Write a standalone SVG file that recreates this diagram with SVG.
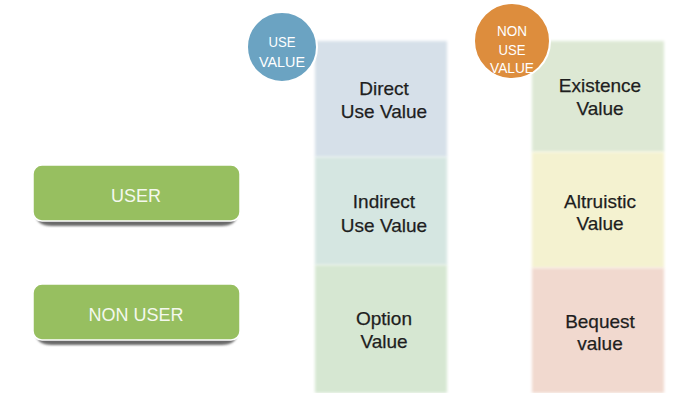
<svg xmlns="http://www.w3.org/2000/svg" width="676" height="393" viewBox="0 0 676 393">
<defs>
<filter id="blur" x="-10%" y="-50%" width="120%" height="200%"><feGaussianBlur stdDeviation="1"/></filter>
<filter id="soft" x="-10%" y="-10%" width="120%" height="120%"><feGaussianBlur stdDeviation="1.5"/></filter>
</defs>
<style>
.ct{font-family:"Liberation Sans",Arial,sans-serif;font-size:19px;fill:#1e1e1e;text-anchor:middle;stroke:#1e1e1e;stroke-width:0.25}
.bt{font-family:"Liberation Sans",Arial,sans-serif;font-size:18px;fill:#f4f8ee;text-anchor:middle}
.cc{font-family:"Liberation Sans",Arial,sans-serif;font-size:15px;fill:#ffffff;text-anchor:middle}
.btn{fill:#97bf60;stroke:#ffffff;stroke-width:1.5}
.sh{fill:#6a6a6a;filter:url(#blur)}
</style>
<rect width="676" height="393" fill="#ffffff"/>
<g id="use-column">
<rect x="315" y="41" width="132" height="116" fill="#d6e0e9" filter="url(#soft)"/>
<rect x="315" y="157" width="132" height="108" fill="#d5e6e1" filter="url(#soft)"/>
<rect x="315" y="265" width="132" height="128" fill="#d6e7d2" filter="url(#soft)"/>
</g>
<g id="direct-use-value"><text class="ct" x="384" y="95">Direct</text><text class="ct" x="384" y="118">Use Value</text></g>
<g id="indirect-use-value"><text class="ct" x="384" y="208">Indirect</text><text class="ct" x="384" y="232">Use Value</text></g>
<g id="option-value"><text class="ct" x="384" y="325">Option</text><text class="ct" x="384" y="348">Value</text></g>
<g id="nonuse-column">
<rect x="532" y="41" width="132" height="111" fill="#dde8d4" filter="url(#soft)"/>
<rect x="532" y="152" width="132" height="116" fill="#f4f2d0" filter="url(#soft)"/>
<rect x="532" y="268" width="132" height="125" fill="#f1d9cf" filter="url(#soft)"/>
</g>
<g id="existence-value"><text class="ct" x="600" y="92">Existence</text><text class="ct" x="600" y="115">Value</text></g>
<g id="altruistic-value"><text class="ct" x="600" y="208">Altruistic</text><text class="ct" x="600" y="230">Value</text></g>
<g id="bequest-value"><text class="ct" x="600" y="328">Bequest</text><text class="ct" x="600" y="350">value</text></g>
<g id="use-value-circle">
<circle cx="282" cy="47" r="35" fill="#6ba3c2" stroke="#ffffff" stroke-width="2"/>
<text class="cc" x="282" y="47" textLength="27" lengthAdjust="spacingAndGlyphs">USE</text><text class="cc" x="282" y="67" textLength="46" lengthAdjust="spacingAndGlyphs">VALUE</text>
</g>
<g id="non-use-value-circle">
<circle cx="512" cy="41" r="38" fill="#dd8d3d" stroke="#ffffff" stroke-width="2"/>
<text class="cc" x="512" y="36" textLength="30" lengthAdjust="spacingAndGlyphs">NON</text><text class="cc" x="512" y="55" textLength="27" lengthAdjust="spacingAndGlyphs">USE</text><text class="cc" x="512" y="73" textLength="44" lengthAdjust="spacingAndGlyphs">VALUE</text>
</g>
<g id="user">
<path class="sh" d="M36 214 Q36 226 52 226 L221 226 Q237 226 237 214 Z"/>
<rect class="btn" x="33" y="165" width="207" height="56" rx="9"/>
<text class="bt" x="136" y="202">USER</text>
</g>
<g id="non-user">
<path class="sh" d="M36 333 Q36 345 52 345 L221 345 Q237 345 237 333 Z"/>
<rect class="btn" x="33" y="284" width="207" height="56" rx="9"/>
<text class="bt" x="136" y="321">NON USER</text>
</g>
<g id="connectors"/>
</svg>
